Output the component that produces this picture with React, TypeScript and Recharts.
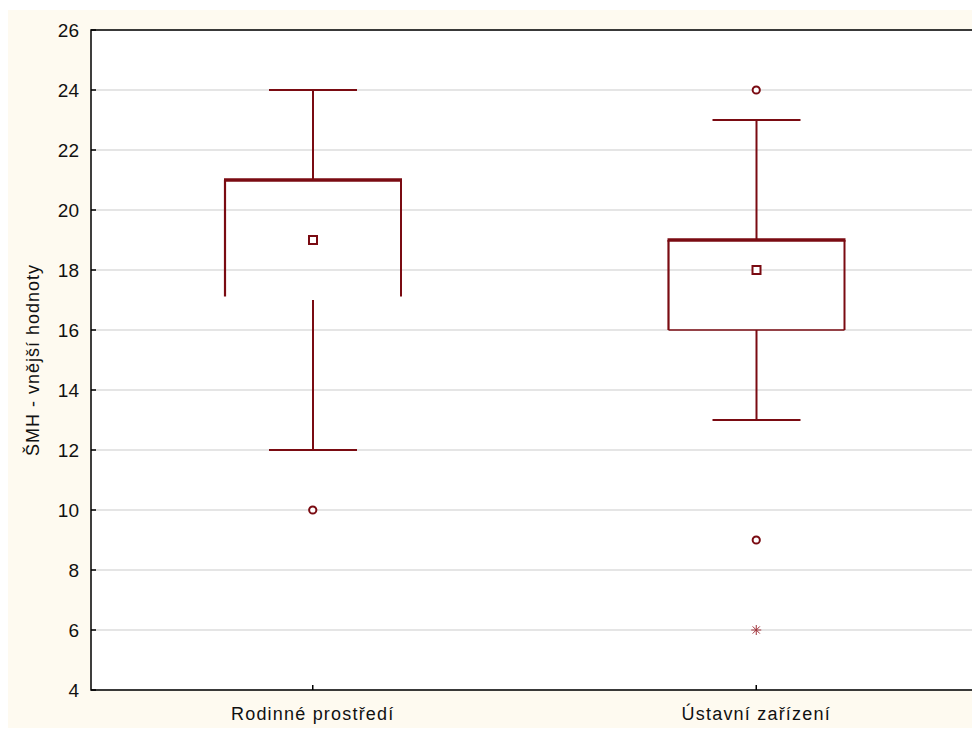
import { ComposedChart, Bar, Scatter, XAxis, YAxis, CartesianGrid, ReferenceArea } from "recharts";

const categories = ["Rodinné prostředí", "Ústavní zařízení"];
const whiskerLow = [12, 13];
const quartile1 = [17, 16];
const medians = [19, 18];
const quartile3 = [21, 19];
const whiskerHigh = [24, 23];
const outliersHigh = [null, 24];
const outliersLow = [10, 9];
const extremesLow = [null, 6];
const yTicks = [4, 6, 8, 10, 12, 14, 16, 18, 20, 22, 24, 26];

const data = categories.map((name, i) => ({
  name,
  low: whiskerLow[i],
  q1: quartile1[i],
  median: medians[i],
  q3: quartile3[i],
  high: whiskerHigh[i],
  outHigh: outliersHigh[i],
  outLow: outliersLow[i],
  extreme: extremesLow[i],
}));

const RED = "#7a0b12";
const FONT = "'Liberation Sans', Arial, sans-serif";
// the first box in the reference is drawn without its lower edge
const closedBottom = [false, true];

function BoxShape(props: any) {
  const { x, y, width, height, payload, index } = props;
  const k = height / (payload.high - payload.low);
  const py = (v: number) => y + (payload.high - v) * k;
  const cx = x + width / 2;
  const capL = cx - width / 4;
  const capR = cx + width / 4;
  const yQ1 = py(payload.q1);
  const yQ3 = py(payload.q3);
  const sideEnd = closedBottom[index] ? yQ1 : yQ1 - 3.5;
  const yMed = py(payload.median);
  return (
    <g fill="none" stroke={RED}>
      <line x1={cx} y1={py(payload.high)} x2={cx} y2={yQ3} strokeWidth={2} />
      <line x1={capL} y1={py(payload.high)} x2={capR} y2={py(payload.high)} strokeWidth={2} />
      <line x1={cx} y1={yQ1} x2={cx} y2={py(payload.low)} strokeWidth={2} />
      <line x1={capL} y1={py(payload.low)} x2={capR} y2={py(payload.low)} strokeWidth={2} />
      <line x1={x} y1={yQ3} x2={x} y2={sideEnd} strokeWidth={2.2} />
      <line x1={x + width} y1={yQ3} x2={x + width} y2={sideEnd} strokeWidth={2} />
      {closedBottom[index] && <line x1={x} y1={yQ1} x2={x + width} y2={yQ1} strokeWidth={1.6} />}
      <line x1={x - 1} y1={yQ3} x2={x + width + 1} y2={yQ3} strokeWidth={3.5} />
      <rect x={cx - 4} y={yMed - 4} width={8} height={8} strokeWidth={2} fill="#fff" />
    </g>
  );
}

const circleShape = (key: string) => (props: any) => {
  const { cx, cy, payload } = props;
  if (payload == null || payload[key] == null || !isFinite(cy)) return <g />;
  return <circle cx={cx} cy={cy} r={3.6} fill="#fff" stroke={RED} strokeWidth={2} />;
};

const starShape = (props: any) => {
  const { cx, cy, payload } = props;
  if (payload == null || payload.extreme == null || !isFinite(cy)) return <g />;
  const r = 5;
  const d = r * 0.72;
  return (
    <g stroke="#a0323a" strokeWidth={1}>
      <line x1={cx - r} y1={cy} x2={cx + r} y2={cy} />
      <line x1={cx} y1={cy - r} x2={cx} y2={cy + r} />
      <line x1={cx - d} y1={cy - d} x2={cx + d} y2={cy + d} />
      <line x1={cx - d} y1={cy + d} x2={cx + d} y2={cy - d} />
    </g>
  );
};

function YTick(props: any) {
  const { x, y, payload } = props;
  return (
    <g>
      <text x={x} y={y} dy="0.36em" textAnchor="end" fontSize={19} fontFamily={FONT} fill="#111">
        {payload.value}
      </text>
      <line x1={x + 12} y1={y} x2={x + 17} y2={y} stroke="#000" strokeWidth={1.5} />
    </g>
  );
}

function XTick(props: any) {
  const { x, y, payload } = props;
  return (
    <g>
      <text x={x} y={y} dy="0.71em" textAnchor="middle" fontSize={18} letterSpacing={1.2} fontFamily={FONT} fill="#111">
        {payload.value}
      </text>
      <line x1={x} y1={y - 17} x2={x} y2={y - 22} stroke="#000" strokeWidth={1.5} />
    </g>
  );
}

function YLabel(props: any) {
  const vb = props.viewBox || { x: 0, y: 20, width: 83, height: 660 };
  const tx = vb.x + 31;
  const ty = vb.y + vb.height / 2;
  return (
    <text
      x={tx}
      y={ty}
      transform={`rotate(-90, ${tx}, ${ty})`}
      textAnchor="middle"
      fontSize={18}
      letterSpacing={1}
      fontFamily={FONT}
      fill="#111"
    >
      ŠMH - vnější hodnoty
    </text>
  );
}

export default function App() {
  return (
    <div style={{ width: 972, height: 718, marginTop: 2, background: "#fefaf0" }}>
      <ComposedChart width={972} height={718} data={data} margin={{ top: 20, right: 2, bottom: 0, left: 0 }}>
        <CartesianGrid vertical={false} stroke="#dcdcdc" strokeWidth={1.5} fill="#fff" />
        <XAxis
          dataKey="name"
          type="category"
          height={38}
          axisLine={false}
          tickLine={false}
          tickSize={0}
          tickMargin={17}
          tick={<XTick />}
        />
        <YAxis
          type="number"
          domain={[4, 26]}
          ticks={yTicks}
          width={83}
          axisLine={false}
          tickLine={false}
          tickSize={0}
          tickMargin={12}
          tick={<YTick />}
          label={<YLabel />}
        />
        <ReferenceArea y1={4} y2={26} fill="none" stroke="#000" strokeWidth={1.5} ifOverflow="visible" />
        <Bar
          dataKey={(d: any) => [d.low, d.high]}
          barSize={176}
          shape={<BoxShape />}
          isAnimationActive={false}
        />
        <Scatter dataKey="outHigh" shape={circleShape("outHigh")} isAnimationActive={false} />
        <Scatter dataKey="outLow" shape={circleShape("outLow")} isAnimationActive={false} />
        <Scatter dataKey="extreme" shape={starShape} isAnimationActive={false} />
      </ComposedChart>
    </div>
  );
}
